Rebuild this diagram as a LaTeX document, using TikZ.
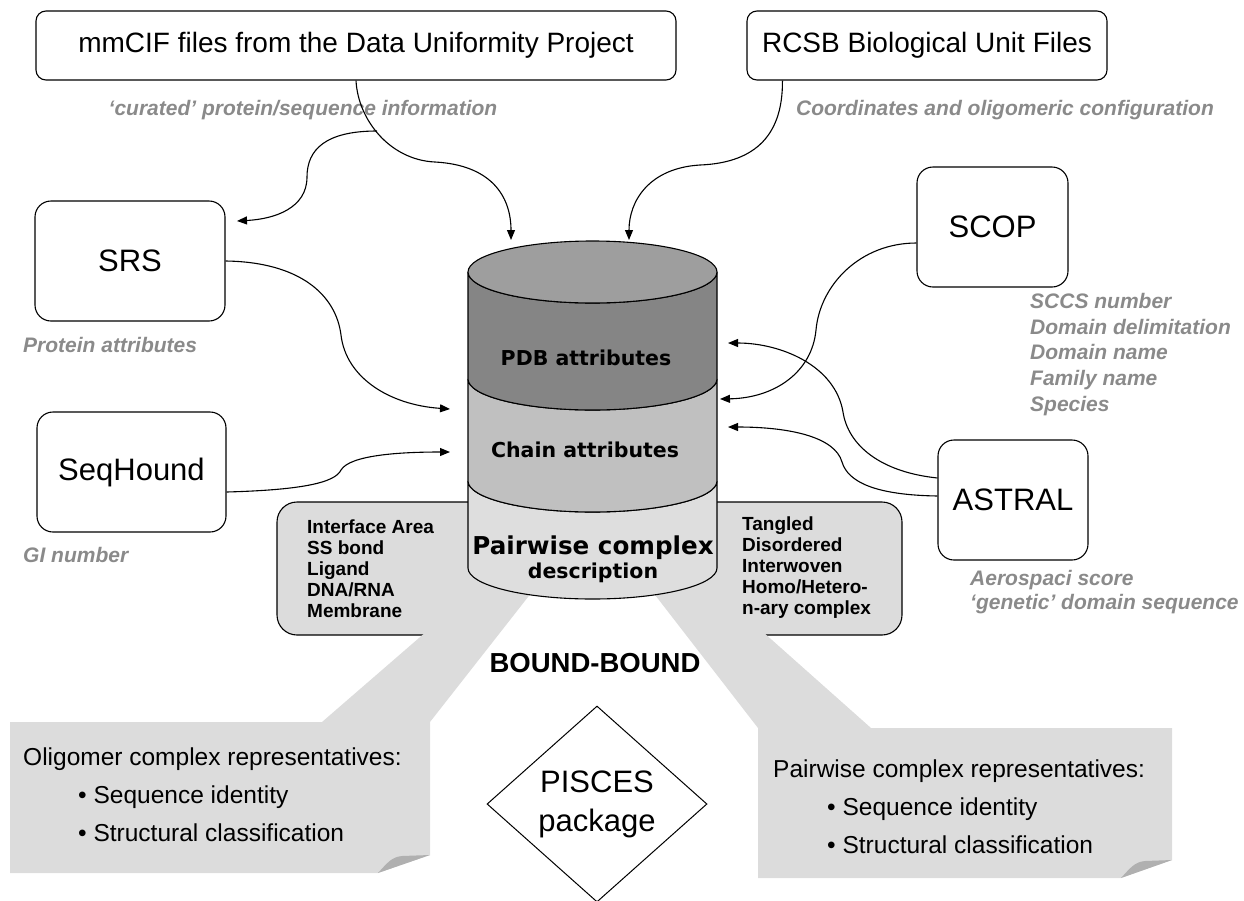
\documentclass[tikz,border=0pt]{standalone}
\usepackage{fontspec}
\setmainfont{Liberation Sans}
\newfontfamily\verd{DejaVu Sans}
\usetikzlibrary{arrows.meta,shapes.geometric,calc}
\definecolor{boxgrey}{HTML}{DCDCDC}
\definecolor{flapgrey}{HTML}{B0B0B0}
\definecolor{topgrey}{HTML}{9E9E9E}
\definecolor{pdbgrey}{HTML}{858585}
\definecolor{chaingrey}{HTML}{C0C0C0}
\definecolor{pairgrey}{HTML}{DEDEDE}
\definecolor{labgrey}{HTML}{8A8A8A}
\begin{document}
\begin{tikzpicture}[x=1pt,y=-1pt,
  src/.style={draw, line width=1.1pt, rounded corners=10pt, inner sep=0pt, font=\fontsize{28}{30}\selectfont},
  dbbox/.style={draw, line width=1.1pt, rounded corners=16pt, inner sep=0pt, minimum height=120pt, font=\fontsize{31}{33}\selectfont},
  glab/.style={text=labgrey, font=\bfseries\itshape\fontsize{21}{25.7}\selectfont, inner sep=0pt, align=left},
  cyltxt/.style={font=\verd\bfseries\fontsize{20.5}{22}\selectfont, inner sep=0pt},
  boxtxt/.style={font=\bfseries\fontsize{19}{21}\selectfont, inner sep=0pt, align=left},
  calltxt/.style={font=\fontsize{24.5}{38}\selectfont, inner sep=0pt, align=left},
  conn/.style={line width=1.1pt, -{Triangle[length=10pt,width=8pt]}},
  band/.style={line width=1.1pt}]
\useasboundingbox (0,0) rectangle (1244,900);

% side boxes
\filldraw[fill=boxgrey, line width=1.1pt, rounded corners=20pt] (490,635) -- (277,635) -- (277,502) -- (490,502);
\filldraw[fill=boxgrey, line width=1.1pt, rounded corners=20pt] (690,502) -- (902,502) -- (902,635) -- (690,635);

% callouts
\fill[boxgrey] (10,722) -- (322,722) -- (509,560) -- (557,560) -- (430,722) -- (430,855) -- (378,873) -- (10,873) -- cycle;
\fill[flapgrey] (378,873) .. controls (388,862) and (392,857) .. (402,856) -- (430,855) -- cycle;
\fill[boxgrey] (758,728) -- (628,560) -- (682,560) -- (871,728) -- (1172,728) -- (1172,860) -- (1121,878) -- (758,878) -- cycle;
\fill[flapgrey] (1121,878) .. controls (1131,867) and (1135,862) .. (1145,861) -- (1172,860) -- cycle;

% cylinder
\filldraw[band, fill=pairgrey] (468,481) -- (468,568) arc[start angle=180,end angle=360,x radius=124.5pt,y radius=31pt] -- (717,481) arc[start angle=0,end angle=-180,x radius=124.5pt,y radius=31pt] -- cycle;
\filldraw[band, fill=chaingrey] (468,379) -- (468,481) arc[start angle=180,end angle=360,x radius=124.5pt,y radius=31pt] -- (717,379) arc[start angle=0,end angle=-180,x radius=124.5pt,y radius=31pt] -- cycle;
\filldraw[band, fill=pdbgrey] (468,272) -- (468,379) arc[start angle=180,end angle=360,x radius=124.5pt,y radius=31pt] -- (717,272) arc[start angle=0,end angle=-180,x radius=124.5pt,y radius=31pt] -- cycle;
\filldraw[band, fill=topgrey] (592.5,272) ellipse[x radius=124.5pt, y radius=31pt];

\node[cyltxt] (pdb) at (586,358) {PDB attributes};
\node[cyltxt] (chain) at (585,450) {Chain attributes};
\node[cyltxt, font=\verd\bfseries\fontsize{24.6}{26}\selectfont] (pair) at (593,548) {Pairwise complex};
\node[cyltxt] (descr) at (593,573) {description};

% box texts
\node[boxtxt, anchor=west] (ifa) at (307,569) {Interface Area\\SS bond\\Ligand\\DNA/RNA\\Membrane};
\node[boxtxt, anchor=west] (tang) at (742,568) {Tangled\\Disordered\\Interwoven\\Homo/Hetero-\\n-ary complex};

% callout texts
\node[calltxt, anchor=west] (olig) at (23,795) {Oligomer complex representatives:\\\hspace*{55pt}\textbullet\ Sequence identity\\\hspace*{55pt}\textbullet\ Structural classification};
\node[calltxt, anchor=west] (pairrep) at (773,807) {Pairwise complex representatives:\\\hspace*{54pt}\textbullet\ Sequence identity\\\hspace*{54pt}\textbullet\ Structural classification};

\node[font=\bfseries\fontsize{27.5}{30}\selectfont, inner sep=0pt] (bb) at (595,663) {BOUND-BOUND};
\node[draw, diamond, line width=1pt, minimum width=220pt, minimum height=196pt, inner sep=0pt, align=center, font=\fontsize{31}{39}\selectfont] (pisces) at (597,804) {PISCES\\package};

% source nodes
\node[src, minimum width=640pt, minimum height=69pt] (mmcif) at (356,45.5) {mmCIF files from the Data Uniformity Project};
\node[src, minimum width=360pt, minimum height=69pt] (rcsb) at (927,45.5) {RCSB Biological Unit Files};
\node[dbbox, minimum width=190pt] (srs) at (130,261) {SRS};
\node[dbbox, minimum width=189pt] (seqhound) at (131.5,472) {SeqHound};
\node[dbbox, minimum width=151pt] (scop) at (992.5,227) {SCOP};
\node[dbbox, minimum width=150pt] (astral) at (1013,500) {ASTRAL};

% grey labels
\node[glab] (curated) at (303,110) {‘curated’ protein/sequence information};
\node[glab] (coord) at (1005,110) {Coordinates and oligomeric configuration};
\node[glab, anchor=west] (protattr) at (23,345) {Protein attributes};
\node[glab, anchor=west] (gi) at (23,555) {GI number};
\node[glab, anchor=west] (sccs) at (1030,354.5) {SCCS number\\Domain delimitation\\Domain name\\Family name\\Species};
\node[glab, anchor=west, font=\bfseries\itshape\fontsize{21}{24}\selectfont] (aero) at (970,592) {Aerospaci score\\‘genetic’ domain sequence};

% connector end points
\coordinate (inA) at (511,240);
\coordinate (inB) at (629,240);
\coordinate (inSRS) at (450,409);
\coordinate (inSeq) at (450,452);
\coordinate (inScop) at (720,399);
\coordinate (inAstA) at (728,343);
\coordinate (inAstB) at (728,427);
\coordinate (srsIn) at (237,221);
\coordinate (br) at (377,131);

% connectors
\draw[conn] (mmcif.south) .. controls (358,120) and (390,160) .. (435,162) .. controls (490,165) and (511,195) .. (inA);
\draw[conn] (br) .. controls (325,131) and (307,150) .. (307,177) .. controls (307,208) and (275,219) .. (srsIn);
\draw[conn] ($(rcsb.south west)+(36,0)$) .. controls (783,140) and (750,163) .. (700,165) .. controls (650,168) and (629,200) .. (inB);
\draw[conn] (srs.east) .. controls (300,262) and (336,295) .. (341,335) .. controls (346,378) and (390,405) .. (inSRS);
\draw[conn] ($(seqhound.east)+(0,20)$) .. controls (300,490) and (335,483) .. (341,470) .. controls (350,455) and (400,452) .. (inSeq);
\draw[conn] ($(scop.west)+(0,16)$) .. controls (860,243) and (820,285) .. (816,330) .. controls (812,372) and (775,398) .. (inScop);
\draw[conn] ($(astral.west)+(0,-22)$) .. controls (880,472) and (848,445) .. (843,412) .. controls (835,365) and (780,343) .. (inAstA);
\draw[conn] ($(astral.west)+(0,-4)$) .. controls (875,495) and (848,482) .. (842,462) .. controls (835,437) and (790,427) .. (inAstB);
\end{tikzpicture}
\end{document}
